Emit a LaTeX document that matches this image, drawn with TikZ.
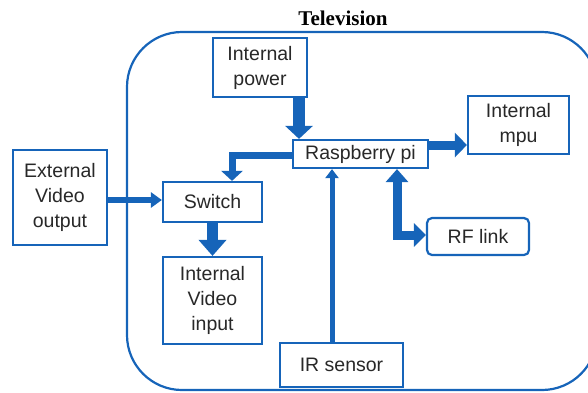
\documentclass[tikz,border=0pt]{standalone}
\usepackage{fontspec}
\setmainfont{Liberation Sans}
\newfontfamily\titlefont{Liberation Serif}
\usetikzlibrary{arrows.meta,calc}
\definecolor{tvblue}{RGB}{22,100,185}
\definecolor{txtgray}{RGB}{40,40,40}
\tikzset{
  blk/.style={draw=tvblue, line width=2.2pt, fill=white, inner sep=0pt,
    align=center, text=txtgray, font=\fontsize{19.5}{25}\selectfont},
  conn/.style={draw=tvblue, line join=miter},
}
\begin{document}
\begin{tikzpicture}[x=1pt,y=-1pt]
\useasboundingbox (0,0) rectangle (588,392);
% outer television frame
\draw[tvblue, line width=2.2pt, rounded corners=55pt] (127,32) rectangle (597,390);
\node[font=\titlefont\bfseries\fontsize{21}{24}\selectfont, text=black] (title) at (343,18) {Television};
% boxes
\node[blk, minimum width=94pt, minimum height=59pt] (power) at (260,67.5) {Internal\\power};
\node[blk, minimum width=135pt, minimum height=28pt] (pi) at (360.5,154) {Raspberry pi};
\node[blk, minimum width=101pt, minimum height=58pt] (mpu) at (518.5,125) {Internal\\mpu};
\node[blk, minimum width=94pt, minimum height=95pt] (ext) at (60,197.5) {External\\Video\\output};
\node[blk, minimum width=99pt, minimum height=40pt] (sw) at (212.5,202) {Switch};
\node[blk, minimum width=99pt, minimum height=87pt] (ivi) at (212.5,300.5) {Internal\\Video\\input};
\node[blk, minimum width=123pt, minimum height=44pt] (ir) at (341.5,365) {IR sensor};
\node[blk, minimum width=102pt, minimum height=37pt, rounded corners=5pt] (rf) at (478,236.5) {RF link};
% connectors
\coordinate (pwA) at ([xshift=39pt]power.south);
\draw[conn, line width=12pt, -{Triangle[width=27pt,length=13pt]}] (pwA) -- (pwA |- pi.north);
\coordinate (piE) at ([yshift=9pt]pi.east);
\draw[conn, line width=9pt, -{Triangle[width=24pt,length=12pt]}] (piE) -- (piE -| mpu.west);
\coordinate (piW) at ([yshift=-1pt]pi.west);
\coordinate (swN) at ([xshift=19.5pt]sw.north);
\draw[conn, line width=7pt, -{Triangle[width=21pt,length=10pt]}] (piW) -| (swN);
\coordinate (extE) at ([yshift=-2.5pt]ext.east);
\draw[conn, line width=6.5pt, -{Triangle[width=15pt,length=11pt]}] (extE) -- (extE -| sw.west);
\draw[conn, line width=11pt, -{Triangle[width=27pt,length=16pt]}] (sw.south) -- (ivi.north);
\coordinate (irN) at ([xshift=-9.5pt]ir.north);
\draw[conn, line width=5pt, -{Triangle[width=13pt,length=9pt]}] (irN) -- (irN |- pi.south);
\coordinate (piS) at ([xshift=36.5pt]pi.south);
\coordinate (rfW) at ([yshift=1.5pt]rf.west);
\draw[conn, line width=9pt, {Triangle[width=22pt,length=13pt]}-{Triangle[width=23pt,length=12pt]}] (piS) |- (rfW);
\end{tikzpicture}
\end{document}
